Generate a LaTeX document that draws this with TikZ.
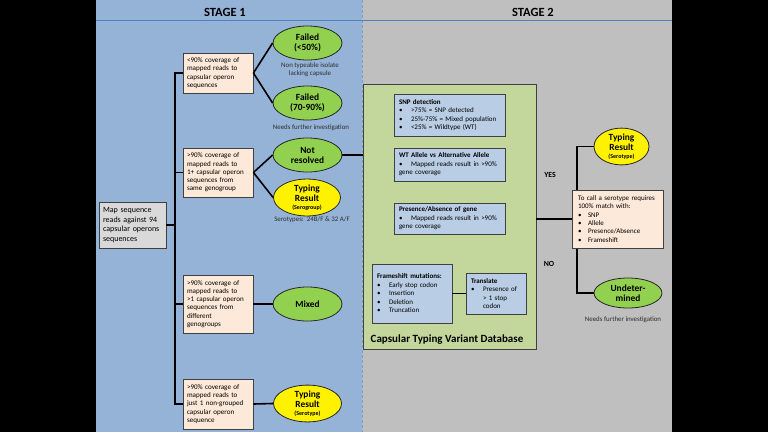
\documentclass[tikz,border=0pt]{standalone}
\usepackage{fontspec}
\setmainfont{Carlito}
\usetikzlibrary{shapes.geometric}
\definecolor{panelblue}{RGB}{149,179,215}
\definecolor{panelgray}{RGB}{191,191,191}
\definecolor{peach}{RGB}{253,233,217}
\definecolor{lgreen}{RGB}{146,208,80}
\definecolor{dbgreen}{RGB}{195,214,155}
\definecolor{lblue}{RGB}{185,205,229}
\definecolor{mapgray}{RGB}{217,217,217}
\definecolor{hdrline}{RGB}{79,129,189}
\definecolor{divline}{RGB}{120,160,215}
\definecolor{edgecol}{RGB}{64,64,64}
\definecolor{captxt}{RGB}{45,45,45}
\newcommand\bul[1]{\makebox[12pt][l]{\textbullet}#1}
\newcommand\bulb[1]{\makebox[10pt][l]{\textbullet}#1}
\newcommand\hangin{\hspace*{12pt}}
\tikzset{
  peachbox/.style={draw=edgecol, line width=0.8pt, fill=peach, align=left,
    font=\fontsize{7.1}{8.3}\selectfont, inner xsep=4pt, inner ysep=0pt, text width=62pt},
  res/.style={ellipse, draw=black!85, line width=0.8pt, fill=lgreen, align=center,
    font=\bfseries\fontsize{9.4}{10}\selectfont, inner sep=0pt, minimum width=69pt, minimum height=34pt},
  typ/.style={res, fill=yellow},
  captn/.style={font=\fontsize{6.9}{8.2}\selectfont, text=captxt, align=center, inner sep=0pt},
  infobox/.style={draw=edgecol, line width=0.8pt, fill=lblue, align=left,
    font=\fontsize{7}{8.5}\selectfont, inner xsep=5pt, inner ysep=0pt},
  link/.style={line width=1.6pt, black},
  hdr/.style={font=\bfseries\fontsize{12.5}{14}\selectfont, inner sep=0pt},
  yn/.style={font=\bfseries\fontsize{7.8}{9}\selectfont, inner sep=0pt}
}
\begin{document}
\begin{tikzpicture}[x=1pt,y=-1pt]
\useasboundingbox (0,0) rectangle (768,432);
% backgrounds
\fill[black] (0,0) rectangle (768,432);
\fill[panelblue] (96,0) rectangle (362,432);
\fill[panelgray] (362,0) rectangle (672,432);
\draw[divline, densely dashed, line width=1pt] (362,0) -- (362,432);
\draw[hdrline, line width=1pt] (96,20.5) -- (672,20.5);
\node[hdr] (hdr1) at (225,12) {STAGE 1};
\node[hdr] (hdr2) at (533,12) {STAGE 2};

% stage 1
\node[draw=edgecol, line width=0.8pt, fill=mapgray, align=left, font=\fontsize{8}{9.6}\selectfont,
  inner xsep=4pt, inner ysep=0pt, text width=59pt, minimum height=46pt] (map) at (132.5,225)
  {Map sequence\\reads against 94\\capsular operons\\sequences};

\node[peachbox, minimum height=40pt] (b1) at (218,73)
  {<90\% coverage of\\mapped reads to\\capsular operon\\sequences};
\node[peachbox, minimum height=49pt] (b2) at (218,172.5)
  {>90\% coverage of\\mapped reads to\\1+ capsular operon\\sequences from\\same genogroup};
\node[peachbox, minimum height=58pt] (b3) at (218,304)
  {>90\% coverage of\\mapped reads to\\>1 capsular operon\\sequences from\\different\\genogroups};
\node[peachbox, minimum height=50pt] (b4) at (218,404)
  {>90\% coverage of\\mapped reads to\\just 1 non-grouped\\capsular operon\\sequence};

\coordinate (tk) at (175,0);
\draw[link] (b1.west) -- (b1.west -| tk) -- (b4.west -| tk) -- (b4.west);
\draw[link] (b2.west) -- (b2.west -| tk);
\draw[link] (b3.west) -- (b3.west -| tk);
\draw[link] (map.east) -- (map.east -| tk);

\node[res] (f1) at (307.5,43) {Failed\\(<50\%)};
\node[res] (f2) at (307.5,103) {Failed\\(70-90\%)};
\node[res] (nr) at (307.5,155) {Not\\resolved};
\node[typ, minimum width=67pt, minimum height=32pt] (tr1) at (307,197.5)
  {Typing\\Result\\[-1.5pt]{\fontsize{6}{7}\selectfont(Serogroup)}};
\node[res] (mx) at (307.5,304) {Mixed};
\node[typ, minimum width=68pt, minimum height=33pt] (tr3) at (307.5,403.5)
  {Typing\\Result\\[-1.5pt]{\fontsize{6}{7}\selectfont(Serotype)}};

\node[captn] (c1) at (310,70) {Non typeable isolate\\lacking capsule};
\node[captn] (c2) at (311,127.5) {Needs further investigation};
\node[captn] (c3) at (312,219.5) {Serotypes:\ \ 24B/F \& 32 A/F};

\draw[link] (b1.east) -- (f1.west);
\draw[link] (b1.east) -- (f2.west);
\draw[link] (b2.east) -- (nr.west);
\draw[link] (b2.east) -- (tr1.west);
\draw[link] (b3.east) -- (mx.west);
\draw[link] (b4.east) -- (tr3.west);

% stage 2 database
\node[draw=edgecol, line width=0.8pt, fill=dbgreen, minimum width=173pt, minimum height=265pt, inner sep=0pt]
  (db) at (449.5,216.5) {};
\node[font=\bfseries\fontsize{11}{13}\selectfont, inner sep=0pt] (dbl) at (447,340)
  {Capsular Typing Variant Database};
\draw[link] (nr.east) -- (nr.east -| db.west);

\node[infobox, text width=101pt, minimum height=42pt] (snp) at (449.5,115)
  {\textbf{SNP detection}\\\bul{>75\% = SNP detected}\\\bul{25\%-75\% = Mixed population}\\\bul{<25\% = Wildtype (WT)}};
\node[infobox, text width=101pt, minimum height=33pt] (wt) at (449.5,164.5)
  {\textbf{WT Allele vs Alternative Allele}\\\bul{Mapped reads result in >90\%}\\gene coverage};
\node[infobox, text width=101pt, minimum height=31pt] (pa) at (449.5,218.5)
  {\textbf{Presence/Absence of gene}\\\bul{Mapped reads result in >90\%}\\gene coverage};
\node[infobox, text width=70pt, minimum height=59pt] (fs) at (412,293.5)
  {\textbf{Frameshift mutations:}\\\bul{Early stop codon}\\\bul{Insertion}\\\bul{Deletion}\\\bul{Truncation}};
\node[infobox, text width=50pt, minimum height=41pt] (tl) at (496,293.5)
  {\textbf{Translate}\\\bul{Presence of}\\\hangin> 1 stop\\\hangin codon};
\draw[link] (tl.west -| fs.east) -- (tl.west);

% stage 2 decision
\node[typ, minimum width=55pt, minimum height=31pt] (tr2) at (621.5,146.5)
  {Typing\\Result\\[-1.5pt]{\fontsize{6}{7}\selectfont(Serotype)}};
\node[res, minimum width=68pt, minimum height=30pt] (und) at (628,293) {Undeter-\\mined};
\coordinate (rk) at (577,0);
\draw[link] (tr2.west) -- (tr2.west -| rk) -- (und.west -| rk) -- (und.west);
\node[draw=edgecol, line width=0.8pt, fill=peach, align=left, font=\fontsize{7}{8.3}\selectfont,
  inner xsep=6pt, inner ysep=0pt, text width=79pt, minimum height=58pt] (dec) at (617.5,219)
  {To call a serotype requires\\100\% match with:\\\bulb{SNP}\\\bulb{Allele}\\\bulb{Presence/Absence}\\\bulb{Frameshift}};
\draw[link] (dec.west -| db.east) -- (dec.west);
\node[captn] (c4) at (623,319.5) {Needs further investigation};
\node[yn] (yes) at (550,175) {YES};
\node[yn] (no) at (549,264) {NO};
\end{tikzpicture}
\end{document}
